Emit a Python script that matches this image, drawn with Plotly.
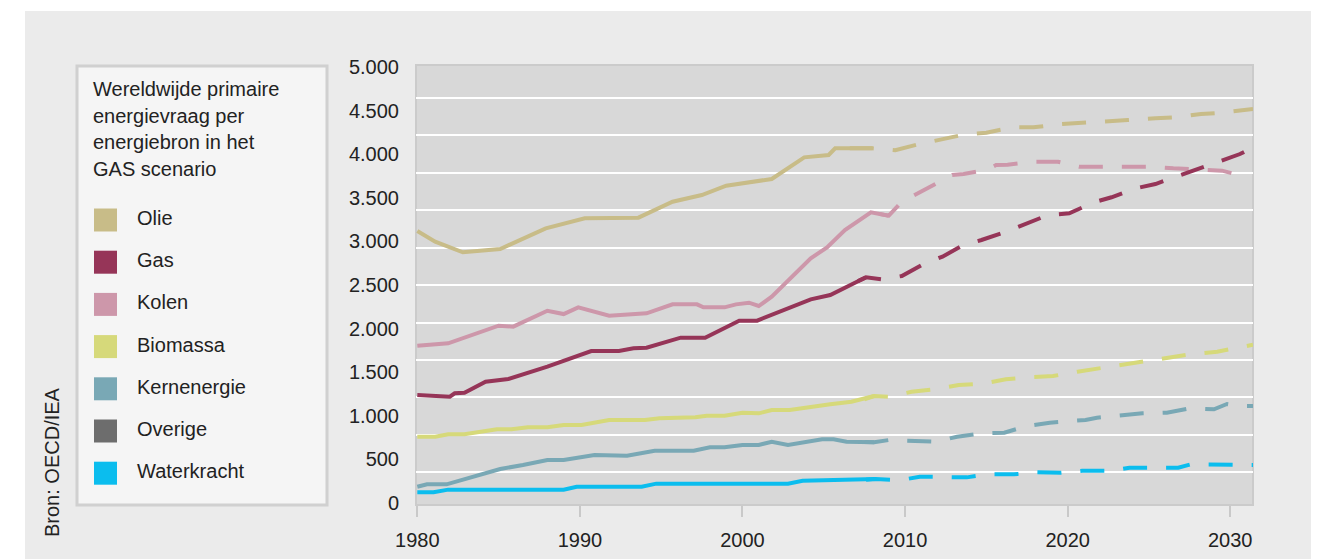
import plotly.graph_objects as go

# ---------------- data (Mtoe) ----------------
olie_hist_x = [1980, 1981.1, 1982.8, 1985.1, 1987.9, 1990.3, 1993.6, 1995.7, 1997.5, 1999.0, 2001.8, 2003.8, 2005.3, 2005.7, 2008.0]
olie_hist_y = [3119, 2997, 2875, 2913, 3150, 3265, 3272, 3455, 3532, 3639, 3716, 3964, 3991, 4067, 4067]
olie_proj_x = [2006.6, 2008.0, 2009.4, 2010.8, 2013.7, 2015.0, 2016.6, 2017.9, 2019.6, 2022.4, 2023.7, 2025.4, 2026.6, 2028.2, 2029.5, 2031.4]
olie_proj_y = [4067, 4067, 4045, 4113, 4228, 4247, 4308, 4308, 4346, 4384, 4392, 4412, 4423, 4461, 4476, 4520]

gas_hist_x = [1980, 1982.0, 1982.3, 1982.9, 1984.2, 1985.6, 1988.0, 1990.7, 1992.4, 1993.3, 1994.1, 1996.2, 1997.7, 1999.8, 2000.9, 2004.2, 2005.4, 2007.6]
gas_hist_y = [1239, 1219, 1258, 1265, 1391, 1422, 1563, 1743, 1743, 1774, 1781, 1896, 1896, 2091, 2091, 2336, 2385, 2588]
gas_proj_x = [2007.1, 2007.6, 2008.6, 2009.8, 2011.1, 2012.3, 2013.6, 2014.7, 2016.2, 2017.4, 2018.8, 2020.1, 2021.6, 2022.7, 2024.2, 2025.4, 2026.8, 2027.9, 2029.5, 2030.6, 2031.4]
gas_proj_y = [2545, 2588, 2565, 2603, 2737, 2825, 2959, 3016, 3111, 3200, 3303, 3322, 3448, 3506, 3609, 3658, 3750, 3819, 3933, 4002, 4079]

kolen_hist_x = [1980, 1981.9, 1985.0, 1985.9, 1988.0, 1989.0, 1989.9, 1991.8, 1994.1, 1995.7, 1997.2, 1997.6, 1998.9, 1999.6, 2000.4, 2001.0, 2001.8, 2004.2, 2005.2, 2006.3, 2007.9, 2009.0]
kolen_hist_y = [1804, 1831, 2033, 2022, 2205, 2167, 2244, 2148, 2175, 2278, 2278, 2244, 2244, 2278, 2297, 2259, 2366, 2806, 2932, 3131, 3334, 3295]
kolen_proj_x = [2008.4, 2009.0, 2009.8, 2011.0, 2012.3, 2012.9, 2013.6, 2015.0, 2015.6, 2016.3, 2017.9, 2019.4, 2020.7, 2022.2, 2025.1, 2026.5, 2028.0, 2029.5, 2030.9]
kolen_proj_y = [3316, 3295, 3455, 3570, 3696, 3761, 3773, 3819, 3876, 3880, 3914, 3914, 3857, 3857, 3857, 3838, 3827, 3811, 3742]

biomassa_hist_x = [1980, 1981.1, 1981.9, 1982.9, 1984.9, 1985.8, 1986.8, 1988.0, 1989.0, 1990.1, 1991.8, 1994.0, 1994.9, 1997.1, 1997.8, 1998.9, 2000.0, 2001.0, 2001.8, 2002.9, 2005.4, 2006.7, 2008.1]
biomassa_hist_y = [760, 760, 788, 788, 845, 845, 868, 868, 894, 894, 952, 952, 971, 983, 1001, 1001, 1036, 1028, 1066, 1066, 1132, 1162, 1227]
biomassa_proj_x = [2007.5, 2008.1, 2009.0, 2010.4, 2011.8, 2013.3, 2014.7, 2016.2, 2017.6, 2019.1, 2020.6, 2022.0, 2023.4, 2024.9, 2026.3, 2027.7, 2029.2, 2030.7, 2031.4]
biomassa_proj_y = [1190, 1227, 1219, 1276, 1304, 1353, 1365, 1419, 1441, 1456, 1506, 1545, 1583, 1620, 1659, 1709, 1735, 1792, 1815]

kern_hist_x = [1980, 1980.6, 1981.8, 1983.7, 1985.1, 1986.5, 1988.0, 1989.0, 1990.9, 1992.9, 1994.6, 1997.0, 1998.0, 1998.9, 2000.0, 2001.0, 2001.8, 2002.8, 2004.9, 2005.6, 2006.4, 2008.1]
kern_hist_y = [187, 214, 214, 313, 390, 436, 493, 493, 550, 542, 600, 600, 639, 639, 665, 665, 703, 665, 730, 730, 703, 696]
kern_proj_x = [2007.5, 2008.1, 2009.0, 2010.5, 2011.9, 2013.2, 2014.7, 2016.1, 2017.5, 2018.9, 2020.4, 2021.1, 2021.8, 2023.2, 2023.9, 2024.6, 2026.1, 2027.5, 2029.0, 2029.8, 2030.5, 2031.4]
kern_proj_y = [699, 696, 722, 711, 703, 760, 799, 806, 883, 921, 940, 952, 978, 998, 1009, 1028, 1036, 1086, 1074, 1135, 1112, 1112]

water_hist_x = [1980, 1981.0, 1981.9, 1989.0, 1989.8, 1993.8, 1994.7, 2002.8, 2003.7, 2007.2, 2008.2]
water_hist_y = [123, 123, 153, 153, 187, 187, 222, 222, 255, 262, 275]
water_proj_x = [2007.6, 2008.2, 2009.5, 2010.1, 2010.9, 2012.1, 2013.8, 2015.1, 2016.7, 2018.0, 2019.6, 2020.9, 2022.6, 2023.8, 2025.5, 2026.8, 2027.6, 2029.8, 2031.4]
water_proj_y = [266, 275, 264, 275, 302, 294, 294, 329, 329, 352, 348, 370, 370, 405, 405, 405, 444, 436, 436]

legend_names = ["Olie", "Gas", "Kolen", "Biomassa", "Kernenergie", "Overige", "Waterkracht"]
legend_colors = ["#c8bc88", "#963558", "#cd97aa", "#d6d97a", "#79a8b5", "#6d6d6d", "#0bbdee"]

y_tickvals = [0, 500, 1000, 1500, 2000, 2500, 3000, 3500, 4000, 4500, 5000]
y_ticktext = ["0", "500", "1.000", "1.500", "2.000", "2.500", "3.000", "3.500", "4.000", "4.500", "5.000"]
x_tickvals = [1980, 1990, 2000, 2010, 2020, 2030]

title_lines = ["Wereldwijde primaire", "energievraag per", "energiebron in het", "GAS scenario"]
source_text = "Bron: OECD/IEA"

# ---------------- figure ----------------
FONT = "Liberation Sans, Arial, sans-serif"
TXT = "#222222"
W, H = 1322, 559
PX0, PX1, PY0, PY1 = 416, 1253, 65, 505   # plot area in pixels


def px_x(px):
    return (px - PX0) / (PX1 - PX0)


def px_y(py):
    return (PY1 - py) / (PY1 - PY0)


fig = go.Figure()

# helper trace so that the decorative grid axis (y2) is drawn
fig.add_trace(go.Scatter(x=[], y=[], yaxis="y2", mode="lines", showlegend=False, hoverinfo="skip"))

series = [
    ("Olie", olie_hist_x, olie_hist_y, olie_proj_x, olie_proj_y, legend_colors[0]),
    ("Kolen", kolen_hist_x, kolen_hist_y, kolen_proj_x, kolen_proj_y, legend_colors[2]),
    ("Gas", gas_hist_x, gas_hist_y, gas_proj_x, gas_proj_y, legend_colors[1]),
    ("Biomassa", biomassa_hist_x, biomassa_hist_y, biomassa_proj_x, biomassa_proj_y, legend_colors[3]),
    ("Kernenergie", kern_hist_x, kern_hist_y, kern_proj_x, kern_proj_y, legend_colors[4]),
    ("Waterkracht", water_hist_x, water_hist_y, water_proj_x, water_proj_y, legend_colors[6]),
]
for name, hx, hy, px, py, col in series:
    fig.add_trace(go.Scatter(x=hx, y=hy, mode="lines", name=name,
                             line=dict(color=col, width=4), hoverinfo="skip"))
    fig.add_trace(go.Scatter(x=px, y=py, mode="lines", name=name + " (prognose)",
                             line=dict(color=col, width=4, dash="24px,19px"), hoverinfo="skip"))

shapes = [
    # outer grey panel
    dict(type="rect", xref="paper", yref="paper", x0=px_x(25), x1=px_x(1311), y0=px_y(565), y1=px_y(11),
         fillcolor="#ebebeb", line=dict(width=0), layer="below"),
    # plot area
    dict(type="rect", xref="paper", yref="paper", x0=0, x1=1, y0=0, y1=1,
         fillcolor="#d8d8d8", line=dict(color="#cbcbcb", width=2), layer="below"),
    # legend box
    dict(type="rect", xref="paper", yref="paper", x0=px_x(77), x1=px_x(327), y0=px_y(505), y1=px_y(66),
         fillcolor="#f5f5f5", line=dict(color="#d0d0d0", width=3), layer="below"),
]

annotations = [
    dict(xref="paper", yref="paper", x=px_x(52), y=px_y(462), xanchor="center", yanchor="middle",
         text=source_text, textangle=-90, showarrow=False, font=dict(family=FONT, size=20, color=TXT)),
]
for i, line in enumerate(title_lines):
    annotations.append(dict(xref="paper", yref="paper", x=px_x(91), y=px_y(89 + i * 26.7), xanchor="left",
                            yanchor="middle", text=line, showarrow=False,
                            font=dict(family=FONT, size=20, color=TXT)))

item_y0, item_step = 220, 42.2
for i, (nm, col) in enumerate(zip(legend_names, legend_colors)):
    yc = item_y0 + i * item_step
    shapes.append(dict(type="rect", xref="paper", yref="paper", x0=px_x(94), x1=px_x(117),
                       y0=px_y(yc + 11.5), y1=px_y(yc - 11.5), fillcolor=col, line=dict(width=0)))
    annotations.append(dict(xref="paper", yref="paper", x=px_x(135), y=px_y(yc - 2), xanchor="left",
                            yanchor="middle", text=nm, showarrow=False,
                            font=dict(family=FONT, size=20, color=TXT)))

fig.update_layout(
    width=W, height=H,
    margin=dict(l=PX0, r=W - PX1, t=PY0, b=H - PY1, autoexpand=False),
    paper_bgcolor="white", plot_bgcolor="rgba(0,0,0,0)",
    showlegend=False,
    font=dict(family=FONT, size=20, color=TXT),
    xaxis=dict(range=[1979.92, 2031.4], tickmode="array", tickvals=x_tickvals, automargin=False,
               ticks="outside", ticklen=11, tickwidth=2, tickcolor="#c9c9c9",
               showgrid=False, zeroline=False, showline=False, ticklabelstandoff=6,
               tickfont=dict(family=FONT, size=20, color=TXT)),
    yaxis=dict(range=[-23, 5023], tickmode="array", tickvals=y_tickvals, ticktext=y_ticktext,
               automargin=False,
               ticks="", showgrid=False, zeroline=False, showline=False, ticklabelstandoff=16,
               tickfont=dict(family=FONT, size=20, color=TXT)),
    yaxis2=dict(overlaying="y", anchor="x", side="left", range=[0.133, 11.867], tick0=0, dtick=1,
                automargin=False,
                showgrid=True, gridcolor="white", gridwidth=2, showticklabels=False,
                ticks="", zeroline=False, showline=False),
    shapes=shapes,
    annotations=annotations,
)

fig.write_html("out.html")
